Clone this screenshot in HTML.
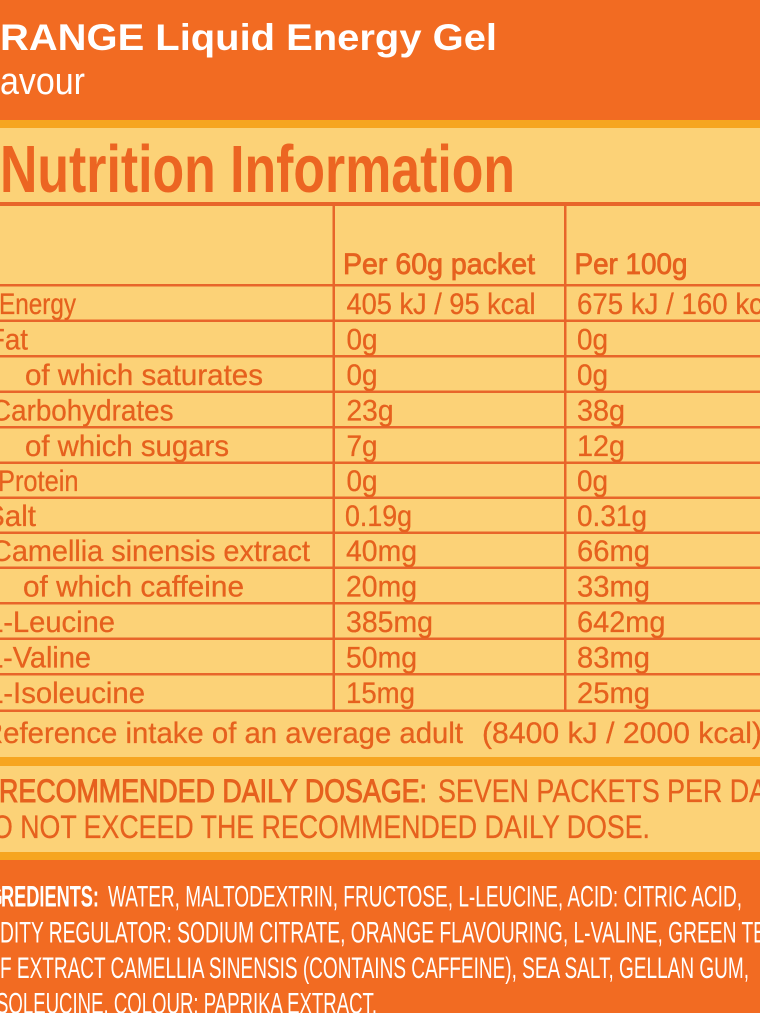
<!DOCTYPE html>
<html>
<head>
<meta charset="utf-8">
<style>
  html, body { margin: 0; padding: 0; background: #fcd277; }
  svg { display: block; }
  text { font-family: "Liberation Sans", "DejaVu Sans", sans-serif; }
  .w { fill: #ffffff; }
  .o { fill: #e6611e; }
  .tb { font-size: 30px; stroke: #e6611e; stroke-width: 0.3px; }
  .hd { font-size: 29.5px; stroke: #e6611e; stroke-width: 0.8px; }
  .ing { font-size: 30px; fill: #ffffff; }
</style>
</head>
<body>
<svg width="760" height="1013" viewBox="0 0 760 1013" xmlns="http://www.w3.org/2000/svg">
  <!-- backgrounds -->
  <rect x="0" y="0" width="760" height="121" fill="#f26b22"/>
  <rect x="0" y="120" width="760" height="8" fill="#f6a520"/>
  <rect x="0" y="128" width="760" height="629" fill="#fcd277"/>
  <rect x="0" y="757" width="760" height="9" fill="#f6a520"/>
  <rect x="0" y="766" width="760" height="86" fill="#fcd277"/>
  <rect x="0" y="852" width="760" height="8" fill="#f6a520"/>
  <rect x="0" y="860" width="760" height="153" fill="#f26b22"/>

  <!-- header -->
  <text class="w" x="-31" y="50" font-size="37" font-weight="bold">O</text>
  <text class="w" x="0" y="50" font-size="37" font-weight="bold" textLength="497" lengthAdjust="spacingAndGlyphs">RANGE Liquid Energy Gel</text>
  <text class="w" x="-36" y="94" font-size="38">Fl</text>
  <text class="w" x="0" y="94" font-size="38" textLength="85" lengthAdjust="spacingAndGlyphs">avour</text>

  <!-- title -->
  <text x="0" y="192" font-size="67" font-weight="bold" fill="#ec6522" textLength="515" lengthAdjust="spacingAndGlyphs">Nutrition Information</text>

  <!-- table lines -->
  <rect x="0" y="202" width="760" height="4" fill="#e8652a"/>
  <g fill="#e8652a">
    <rect x="0" y="284" width="760" height="2.5"/>
    <rect x="0" y="319.5" width="760" height="2.5"/>
    <rect x="0" y="355" width="760" height="2.5"/>
    <rect x="0" y="390.5" width="760" height="2.5"/>
    <rect x="0" y="426" width="760" height="2.5"/>
    <rect x="0" y="461.5" width="760" height="2.5"/>
    <rect x="0" y="496.5" width="760" height="2.5"/>
    <rect x="0" y="531.5" width="760" height="2.5"/>
    <rect x="0" y="566.5" width="760" height="2.5"/>
    <rect x="0" y="602" width="760" height="2.5"/>
    <rect x="0" y="637.5" width="760" height="2.5"/>
    <rect x="0" y="673" width="760" height="2.5"/>
    <rect x="0" y="709.5" width="760" height="2.5"/>
    <rect x="332.5" y="204" width="2.5" height="507"/>
    <rect x="564" y="204" width="2.5" height="507"/>
  </g>

  <!-- table header -->
  <text class="o hd" x="343" y="274" textLength="192" lengthAdjust="spacingAndGlyphs">Per 60g packet</text>
  <text class="o hd" x="574.5" y="274" textLength="113" lengthAdjust="spacingAndGlyphs">Per 100g</text>

  <!-- rows -->
  <g class="o tb">
    <text x="-1" y="314" textLength="77" lengthAdjust="spacingAndGlyphs">Energy</text>
    <text x="346.5" y="314" textLength="189" lengthAdjust="spacingAndGlyphs">405 kJ / 95 kcal</text>
    <text x="577" y="314" textLength="207.5" lengthAdjust="spacingAndGlyphs">675 kJ / 160 kcal</text>

    <text x="-12" y="349.5" textLength="40" lengthAdjust="spacingAndGlyphs">Fat</text>
    <text x="346.5" y="349.5" textLength="31" lengthAdjust="spacingAndGlyphs">0g</text>
    <text x="577" y="349.5" textLength="31" lengthAdjust="spacingAndGlyphs">0g</text>

    <text x="25" y="385" textLength="238" lengthAdjust="spacingAndGlyphs">of which saturates</text>
    <text x="346.5" y="385" textLength="31" lengthAdjust="spacingAndGlyphs">0g</text>
    <text x="577" y="385" textLength="31" lengthAdjust="spacingAndGlyphs">0g</text>

    <text x="-9" y="420.5" textLength="182.5" lengthAdjust="spacingAndGlyphs">Carbohydrates</text>
    <text x="346.5" y="420.5" textLength="47" lengthAdjust="spacingAndGlyphs">23g</text>
    <text x="577" y="420.5" textLength="48" lengthAdjust="spacingAndGlyphs">38g</text>

    <text x="25" y="456" textLength="204" lengthAdjust="spacingAndGlyphs">of which sugars</text>
    <text x="346.5" y="456" textLength="31" lengthAdjust="spacingAndGlyphs">7g</text>
    <text x="577" y="456" textLength="48" lengthAdjust="spacingAndGlyphs">12g</text>

    <text x="-2" y="491" textLength="80.5" lengthAdjust="spacingAndGlyphs">Protein</text>
    <text x="346.5" y="491" textLength="31" lengthAdjust="spacingAndGlyphs">0g</text>
    <text x="577" y="491" textLength="31" lengthAdjust="spacingAndGlyphs">0g</text>

    <text x="-15" y="526" textLength="51" lengthAdjust="spacingAndGlyphs">Salt</text>
    <text x="345" y="526" textLength="67" lengthAdjust="spacingAndGlyphs">0.19g</text>
    <text x="577" y="526" textLength="70" lengthAdjust="spacingAndGlyphs">0.31g</text>

    <text x="-9" y="561" textLength="319" lengthAdjust="spacingAndGlyphs">Camellia sinensis extract</text>
    <text x="346" y="561" textLength="71" lengthAdjust="spacingAndGlyphs">40mg</text>
    <text x="577" y="561" textLength="73" lengthAdjust="spacingAndGlyphs">66mg</text>

    <text x="23" y="596.5" textLength="221" lengthAdjust="spacingAndGlyphs">of which caffeine</text>
    <text x="346" y="596.5" textLength="71" lengthAdjust="spacingAndGlyphs">20mg</text>
    <text x="577" y="596.5" textLength="73" lengthAdjust="spacingAndGlyphs">33mg</text>

    <text x="-13" y="632" textLength="128" lengthAdjust="spacingAndGlyphs">L-Leucine</text>
    <text x="346" y="632" textLength="87" lengthAdjust="spacingAndGlyphs">385mg</text>
    <text x="577" y="632" textLength="88.5" lengthAdjust="spacingAndGlyphs">642mg</text>

    <text x="-13" y="667.5" textLength="104" lengthAdjust="spacingAndGlyphs">L-Valine</text>
    <text x="346" y="667.5" textLength="71" lengthAdjust="spacingAndGlyphs">50mg</text>
    <text x="577" y="667.5" textLength="73" lengthAdjust="spacingAndGlyphs">83mg</text>

    <text x="-13" y="703" textLength="158" lengthAdjust="spacingAndGlyphs">L-Isoleucine</text>
    <text x="346" y="703" textLength="69" lengthAdjust="spacingAndGlyphs">15mg</text>
    <text x="577" y="703" textLength="73" lengthAdjust="spacingAndGlyphs">25mg</text>

    <text x="-18" y="743" textLength="481" lengthAdjust="spacingAndGlyphs">Reference intake of an average adult</text>
    <text x="482" y="743" textLength="280" lengthAdjust="spacingAndGlyphs">(8400 kJ / 2000 kcal)</text>
  </g>

  <!-- recommended dosage -->
  <text class="o" x="-1" y="802" font-size="32.5" stroke="#e6611e" stroke-width="1" textLength="428" lengthAdjust="spacingAndGlyphs">RECOMMENDED DAILY DOSAGE:</text>
  <text class="o" x="438" y="802" font-size="32.5" stroke="#e6611e" stroke-width="0.3" textLength="345" lengthAdjust="spacingAndGlyphs">SEVEN PACKETS PER DAY</text>
  <text class="o" x="-32" y="838" font-size="32.5">D</text>
  <text class="o" x="-8" y="838" font-size="32.5" stroke="#e6611e" stroke-width="0.3" textLength="658" lengthAdjust="spacingAndGlyphs">O NOT EXCEED THE RECOMMENDED DAILY DOSE.</text>

  <!-- ingredients -->
  <text class="ing" x="-50" y="906.5" font-weight="bold">ING</text>
  <text class="ing" x="1" y="906.5" font-weight="bold" textLength="98" lengthAdjust="spacingAndGlyphs">REDIENTS:</text>
  <text class="ing" x="108" y="906.5" textLength="634" lengthAdjust="spacingAndGlyphs">WATER, MALTODEXTRIN, FRUCTOSE, L-LEUCINE, ACID: CITRIC ACID,</text>
  <text class="ing" x="0" y="942.5" textLength="766" lengthAdjust="spacingAndGlyphs">DITY REGULATOR: SODIUM CITRATE, ORANGE FLAVOURING, L-VALINE, GREEN TE</text>
  <text class="ing" x="0" y="978" textLength="749" lengthAdjust="spacingAndGlyphs">F EXTRACT CAMELLIA SINENSIS (CONTAINS CAFFEINE), SEA SALT, GELLAN GUM,</text>
  <text class="ing" x="-4" y="1013.5" textLength="381" lengthAdjust="spacingAndGlyphs">SOLEUCINE, COLOUR: PAPRIKA EXTRACT.</text>
</svg>
</body>
</html>
